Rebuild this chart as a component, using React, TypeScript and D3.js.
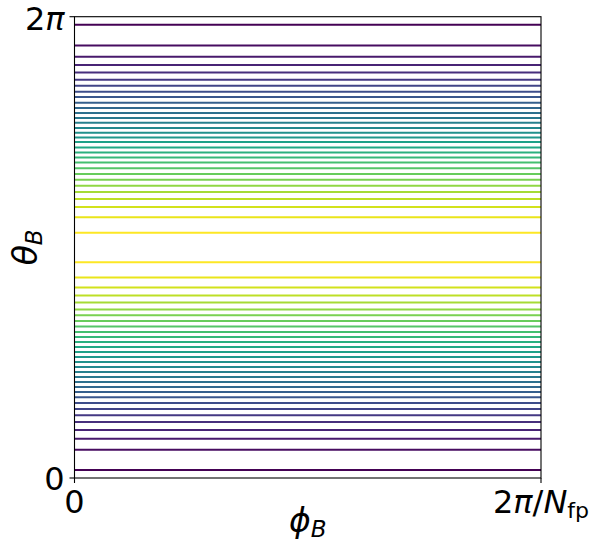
import React from "react";
import * as d3 from "d3";

// theta_B of each field line
// upper half: from the top (near 2pi) down to the middle
const thetaUpper = [
  6.174, 5.892, 5.738, 5.625, 5.524, 5.424, 5.343, 5.261, 5.189, 5.111,
  5.039, 4.971, 4.903, 4.838, 4.766, 4.702, 4.638, 4.575, 4.502, 4.434,
  4.366, 4.297, 4.218, 4.139, 4.062, 3.98, 3.894, 3.799, 3.69, 3.553, 3.339,
];
// lower half: from the bottom (near 0) up to the middle
const thetaLower = [
  0.109, 0.386, 0.536, 0.654, 0.763, 0.855, 0.94, 1.022, 1.1, 1.172,
  1.24, 1.308, 1.377, 1.445, 1.513, 1.581, 1.649, 1.717, 1.786, 1.854,
  1.919, 1.99, 2.062, 2.14, 2.217, 2.294, 2.389, 2.485, 2.594, 2.73, 2.94,
];

const xTicks = [0, 1]; // in units of 2pi/Nfp
const yTicks = [0, 2 * Math.PI];

const width = 598;
const height = 544;
const margin = { left: 74.5, right: 57, top: 16.7, bottom: 66 };
const font = "DejaVu Sans";

export default function App() {
  const x = d3
    .scaleLinear()
    .domain([0, 1])
    .range([margin.left, width - margin.right]);
  const y = d3
    .scaleLinear()
    .domain([0, 2 * Math.PI])
    .range([height - margin.bottom, margin.top]);

  const n = thetaUpper.length - 1;
  const lines = [
    ...thetaUpper.map((t, i) => ({ t, c: d3.interpolateViridis(i / n) })),
    ...thetaLower.map((t, i) => ({ t, c: d3.interpolateViridis(i / n) })),
  ];

  const [x0, x1] = x.range();
  const [yb, yt] = y.range();

  return (
    <svg
      width={width}
      height={height}
      style={{ position: "absolute", left: 0, top: 0, background: "#fff" }}
      fontFamily={font}
    >
      {lines.map((d, i) => (
        <line
          key={i}
          x1={x0}
          x2={x1}
          y1={y(d.t)}
          y2={y(d.t)}
          stroke={d.c}
          strokeWidth={2}
        />
      ))}

      {/* frame */}
      <rect
        x={x0}
        y={yt}
        width={x1 - x0}
        height={yb - yt}
        fill="none"
        stroke="#000"
        strokeWidth={1.1}
      />

      {/* y ticks */}
      {yTicks.map((t, i) => (
        <line key={i} x1={x0 - 5} x2={x0} y1={y(t)} y2={y(t)} stroke="#000" strokeWidth={1.1} />
      ))}
      <text x={x0 - 10} y={y(2 * Math.PI) + 13} fontSize={32} textAnchor="end">
        2<tspan fontStyle="italic">π</tspan>
      </text>
      <text x={x0 - 10} y={y(0) + 12} fontSize={32} textAnchor="end">
        0
      </text>

      {/* x ticks */}
      {xTicks.map((t, i) => (
        <line key={i} x1={x(t)} x2={x(t)} y1={yb} y2={yb + 5} stroke="#000" strokeWidth={1.1} />
      ))}
      <text x={x(0)} y={yb + 35} fontSize={32} textAnchor="middle">
        0
      </text>
      <text x={x(1)} y={yb + 35} fontSize={32} textAnchor="middle">
        2<tspan fontStyle="italic">π</tspan>/<tspan fontStyle="italic">N</tspan>
        <tspan fontSize={22} dy={5}>fp</tspan>
      </text>

      {/* axis labels */}
      <text x={(x0 + x1) / 2} y={height - 12} fontSize={33} textAnchor="middle">
        <tspan fontStyle="italic">ϕ</tspan>
        <tspan fontStyle="italic" fontSize={23} dy={5}>B</tspan>
      </text>
      <text
        transform={`translate(${37},${(yb + yt) / 2}) rotate(-90)`}
        fontSize={33}
        textAnchor="middle"
      >
        <tspan fontStyle="italic">θ</tspan>
        <tspan fontStyle="italic" fontSize={23} dy={5}>B</tspan>
      </text>
    </svg>
  );
}
